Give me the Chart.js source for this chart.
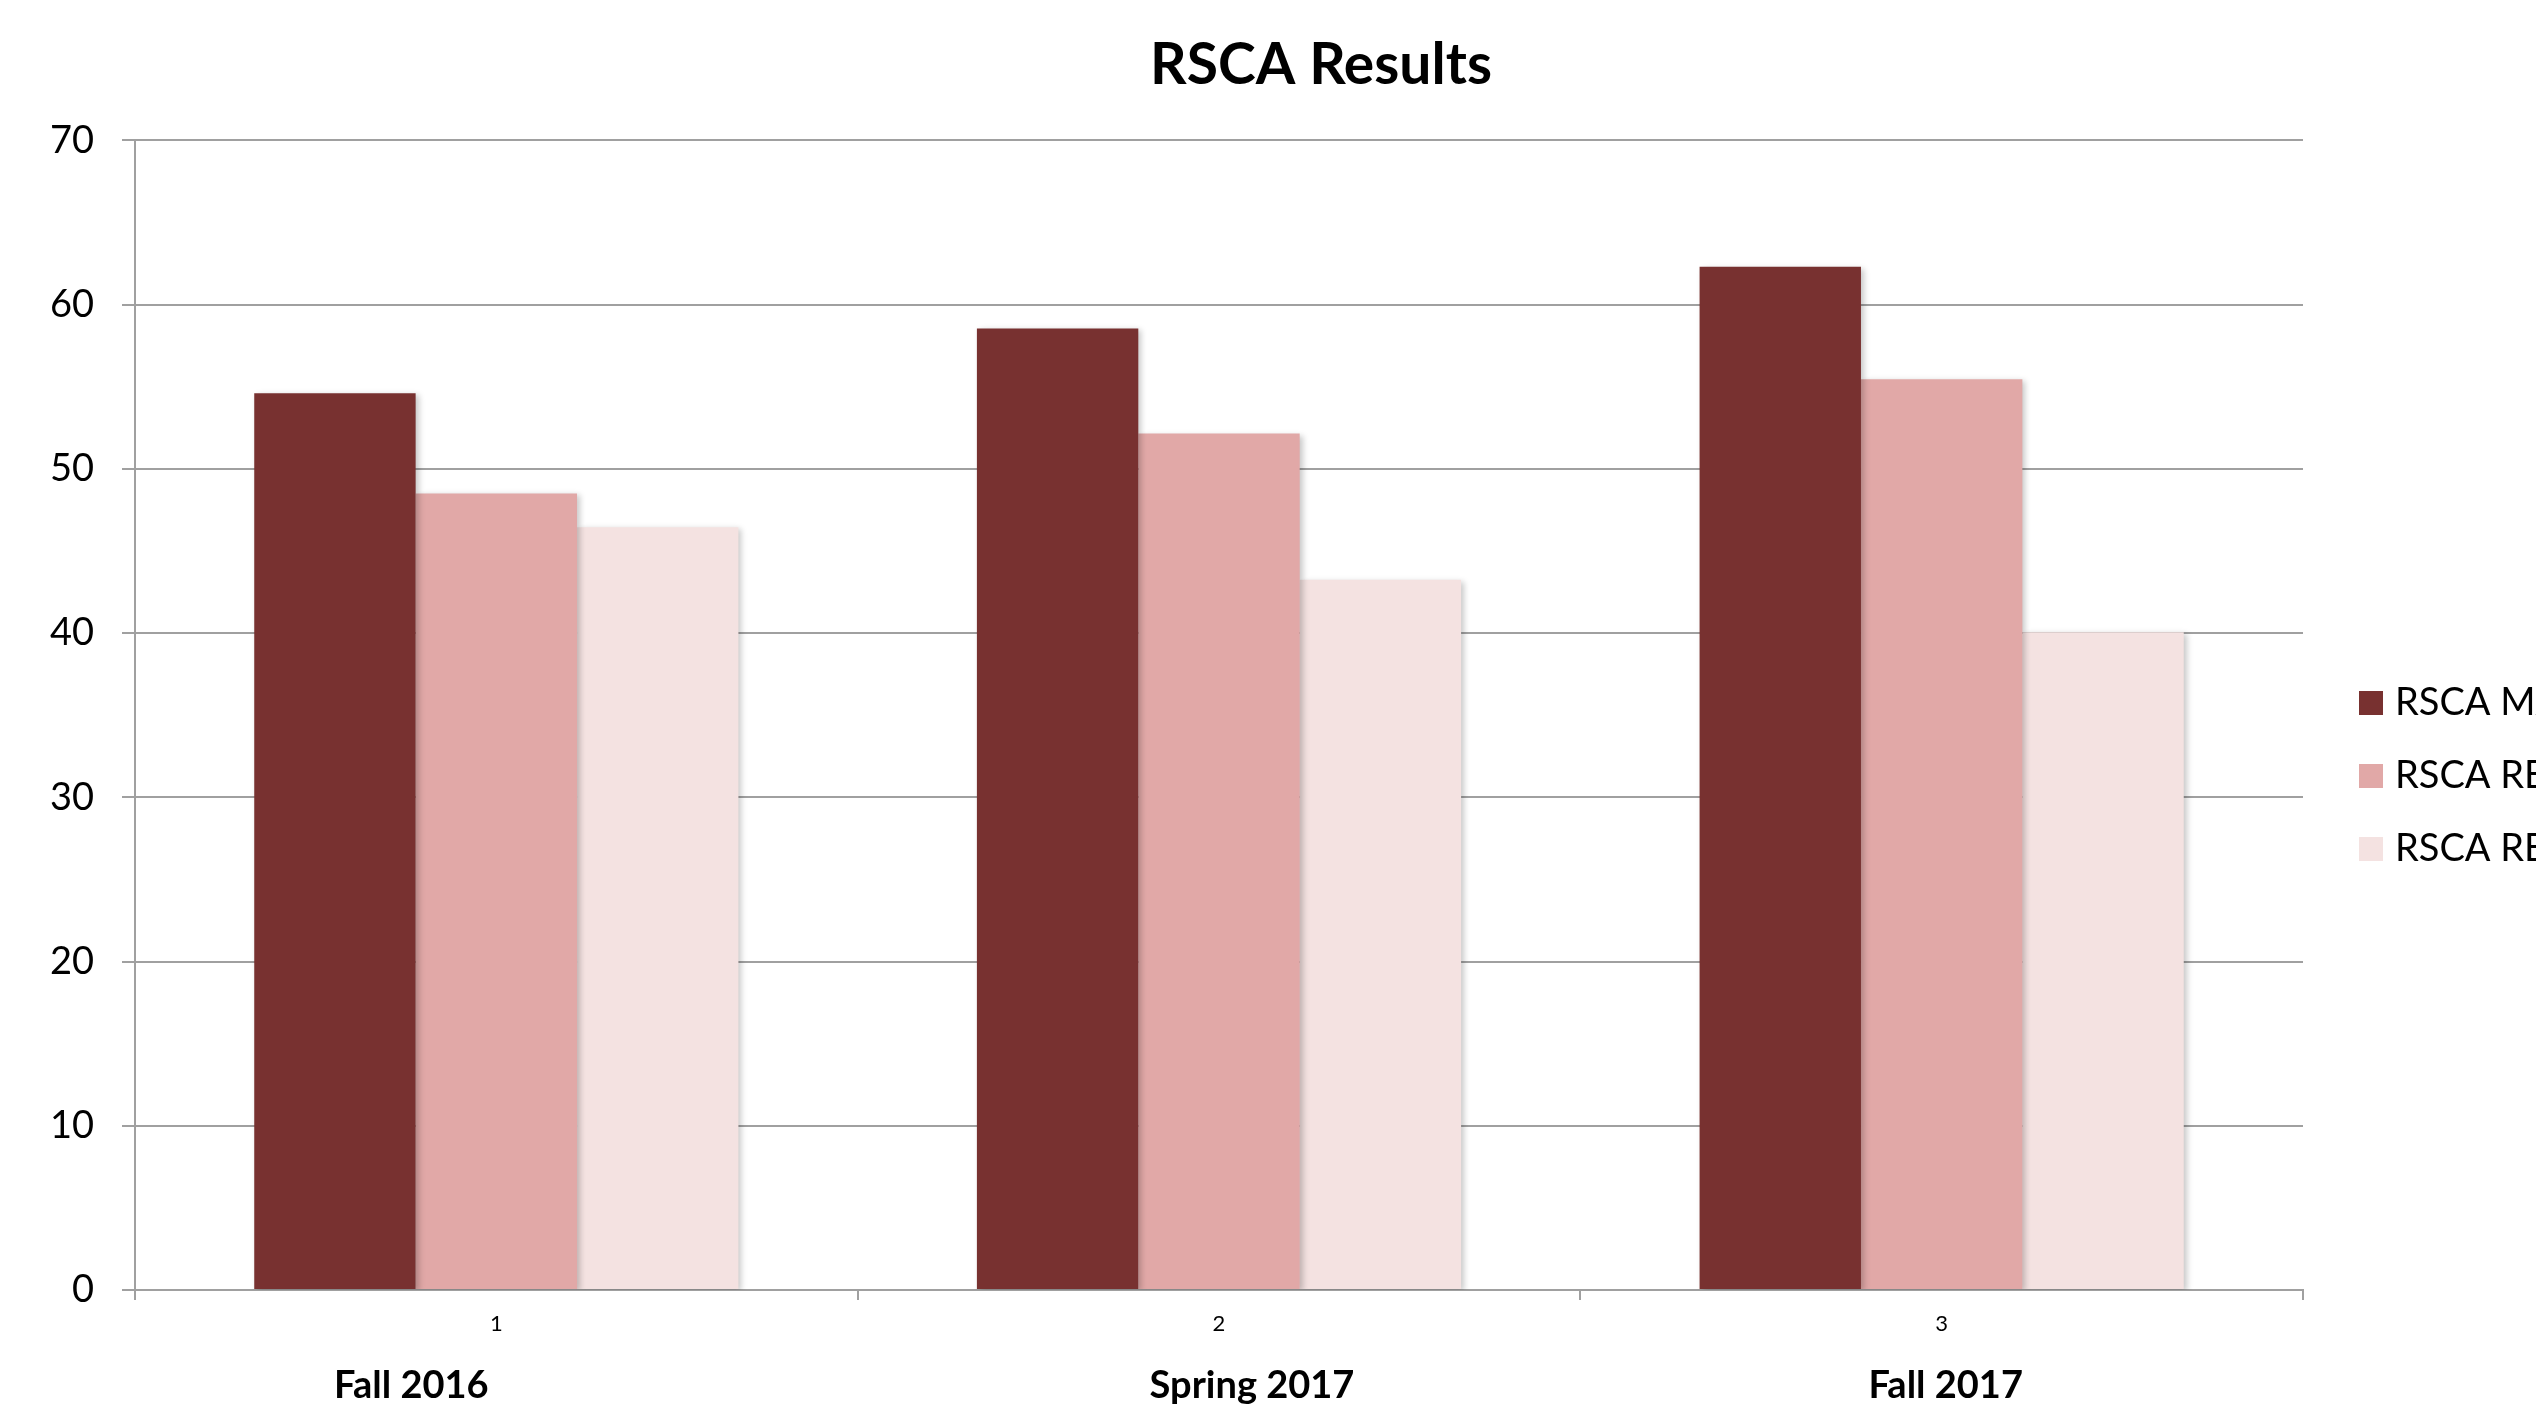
<!DOCTYPE html>
<html><head><meta charset="utf-8">
<script src="https://cdn.jsdelivr.net/npm/chart.js@4"></script>
<style>
html,body{margin:0;padding:0;overflow:hidden;background:#fff;width:2536px;height:1406px}
#wrap{width:2642px;height:1406px;position:relative}
</style></head>
<body><div id="wrap"><canvas id="c" width="2642" height="1406"></canvas></div>
<script>
const categories = ['1', '2', '3'];
const periodLabels = ['Fall 2016', 'Spring 2017', 'Fall 2017'];
const seriesNames = ['RSCA MAJORS', 'RSCA RESEARCH', 'RSCA RESOURCES'];
const seriesMajors = [54.6, 58.55, 62.3];
const seriesResearch = [48.5, 52.15, 55.45];
const seriesResources = [46.45, 43.25, 40.05];
const yMin = 0, yMax = 70, yStep = 10;
const colors = ['#783130', '#E1A8A7', '#F4E2E1'];

const gridGray = '#a0a0a0';
const FONT = 'Lato, "Open Sans", sans-serif';

function swatch(color) {
  const c = document.createElement('canvas');
  c.width = 24; c.height = 24;
  const g = c.getContext('2d');
  g.fillStyle = color; g.fillRect(0, 0, 24, 24);
  return c;
}

const periodLabelPlugin = {
  id: 'periodLabels',
  afterDraw(chart, args, opts) {
    const xs = chart.scales.x, ctx = chart.ctx;
    ctx.save();
    ctx.font = 'bold 38px ' + FONT;
    ctx.fillStyle = '#000';
    ctx.textAlign = 'center';
    ctx.textBaseline = 'middle';
    periodLabels.forEach((t, i) => {
      ctx.fillText(t, xs.getPixelForValue(i) + opts.offsets[i], xs.top + opts.dy);
    });
    ctx.restore();
  }
};
const shadowPlugin = {
  id: 'barShadow',
  beforeDatasetsDraw(chart) {
    const c = chart.ctx; c.save();
    c.shadowColor = 'rgba(0,0,0,0.22)'; c.shadowBlur = 6; c.shadowOffsetX = 3; c.shadowOffsetY = 2;
  },
  afterDatasetsDraw(chart) { chart.ctx.restore(); }
};

new Chart(document.getElementById('c'), {
  type: 'bar',
  data: {
    labels: categories,
    datasets: [
      { label: seriesNames[0], data: seriesMajors, backgroundColor: colors[0] },
      { label: seriesNames[1], data: seriesResearch, backgroundColor: colors[1] },
      { label: seriesNames[2], data: seriesResources, backgroundColor: colors[2] }
    ]
  },
  options: {
    responsive: false,
    devicePixelRatio: 1,
    animation: false,
    layout: { padding: 0 },
    datasets: { bar: { categoryPercentage: 0.67, barPercentage: 1.0, borderWidth: 0 } },
    scales: {
      x: {
        grid: { offset: true, drawOnChartArea: false, drawTicks: true, tickLength: 10, color: gridGray, lineWidth: 2 },
        border: { color: gridGray, width: 2 },
        ticks: { font: { family: FONT, size: 22 }, color: '#000', padding: 11 },
        afterFit(s) { s.height = 116; }
      },
      y: {
        min: yMin, max: yMax,
        ticks: { stepSize: yStep, font: { family: FONT, size: 38 }, color: '#000', padding: 28 },
        grid: { color: gridGray, lineWidth: 2, tickLength: 13 },
        border: { color: gridGray, width: 2 },
        afterFit(s) { s.width = 135; }
      },
      yPad: {
        position: 'right', display: true,
        grid: { display: false, drawTicks: false },
        border: { display: false },
        ticks: { display: false },
        afterFit(s) { s.width = 28; }
      }
    },
    plugins: {
      title: {
        display: true, text: 'RSCA Results', color: '#000',
        font: { family: FONT, size: 57, weight: 'bold' },
        padding: { top: 31, bottom: 41 }
      },
      legend: {
        position: 'right', maxWidth: 311,
        title: { display: true, text: ' ', font: { size: 10 }, padding: { top: 67, bottom: 67 } },
        labels: {
          usePointStyle: true, boxWidth: 10, boxHeight: 24, padding: 35, color: '#000',
          font: { family: FONT, size: 38 },
          generateLabels(chart) {
            const items = Chart.defaults.plugins.legend.labels.generateLabels(chart);
            items.forEach((it, i) => { it.pointStyle = swatch(colors[i]); });
            return items;
          }
        }
      },
      tooltip: { enabled: false },
      periodLabels: { offsets: [-85, 33, 4], dy: 96 }
    }
  },
  plugins: [shadowPlugin, periodLabelPlugin]
});
</script>
</body></html>
